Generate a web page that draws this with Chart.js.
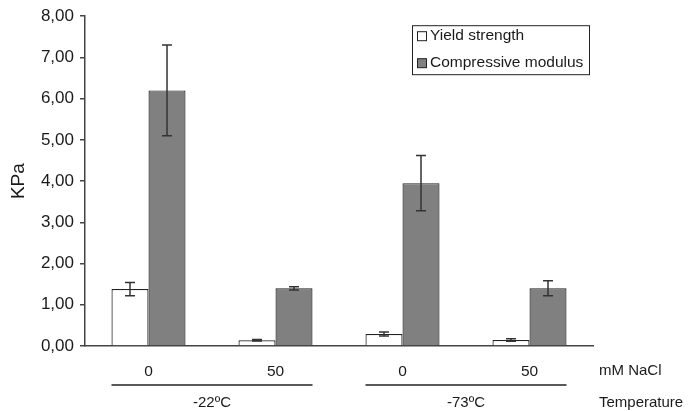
<!DOCTYPE html>
<html><head><meta charset="utf-8">
<script src="https://cdn.jsdelivr.net/npm/chart.js@4/dist/chart.umd.min.js"></script>
<style>html,body{margin:0;padding:0;background:#fff;}#wrap{width:689px;height:411px;}</style>
</head><body><div id="wrap"><canvas id="c" width="689" height="411"></canvas></div>
<script>
const categories = ['0', '50', '0', '50'];
const groups = ['-22ºC', '-73ºC'];
const groupSpan = [[0, 1], [2, 3]];
const yieldStrength = [1.38, 0.14, 0.29, 0.145];
const yieldErr = [0.16, 0.02, 0.05, 0.03];
const compModulus = [6.20, 1.40, 3.95, 1.40];
const compErr = [1.10, 0.04, 0.67, 0.18];
const seriesNames = ['Yield strength', 'Compressive modulus'];
const yTitle = 'KPa';
const xAxisName = 'mM NaCl';
const groupAxisName = 'Temperature';

const FONT = "'Liberation Sans', Arial, sans-serif";
const errors = [yieldErr, compErr];

const errorBars = {
  id: 'errorBars',
  afterDatasetsDraw(chart) {
    const ctx = chart.ctx, ys = chart.scales.y;
    ctx.save();
    ctx.strokeStyle = '#333';
    ctx.lineWidth = 1.5;
    chart.data.datasets.forEach((ds, i) => {
      const meta = chart.getDatasetMeta(i);
      meta.data.forEach((el, j) => {
        const v = ds.data[j], e = errors[i][j];
        const t = ys.getPixelForValue(v + e), b = ys.getPixelForValue(v - e);
        const x = el.x, hw = 5;
        ctx.beginPath();
        ctx.moveTo(x, t); ctx.lineTo(x, b);
        ctx.moveTo(x - hw, t); ctx.lineTo(x + hw, t);
        ctx.moveTo(x - hw, b); ctx.lineTo(x + hw, b);
        ctx.stroke();
      });
    });
    ctx.restore();
  }
};

const extras = {
  id: 'extras',
  afterDraw(chart) {
    const ctx = chart.ctx, ca = chart.chartArea;
    const m0 = chart.getDatasetMeta(0), m1 = chart.getDatasetMeta(1);
    ctx.save();
    ctx.fillStyle = '#1a1a1a';
    ctx.strokeStyle = '#222';
    ctx.lineWidth = 1.5;
    ctx.font = '15px ' + FONT;
    ctx.textBaseline = 'middle';
    groupSpan.forEach((sp, g) => {
      const a = m0.data[sp[0]], b = m1.data[sp[1]];
      const l = a.x - a.width / 2, r = b.x + b.width / 2;
      const ly = ca.bottom + 39;
      ctx.beginPath(); ctx.moveTo(l, ly); ctx.lineTo(r, ly); ctx.stroke();
      ctx.textAlign = 'center';
      ctx.fillText(groups[g], (l + r) / 2, ca.bottom + 57);
    });
    ctx.textAlign = 'left';
    ctx.fillText(xAxisName, 599, ca.bottom + 25);
    ctx.fillText(groupAxisName, 599, ca.bottom + 57);

    // legend
    const bx = ca.right - 181, by = ca.top + 9, bw = 177, bh = 49;
    ctx.lineWidth = 1;
    ctx.strokeStyle = '#222';
    ctx.strokeRect(bx + 0.5, by + 0.5, bw, bh);
    chart.data.datasets.forEach((ds, i) => {
      const cy = by + 11 + i * 27;
      ctx.fillStyle = ds.backgroundColor;
      ctx.fillRect(bx + 5.5, cy - 4.5, 9, 9);
      ctx.strokeStyle = '#222';
      ctx.strokeRect(bx + 5.5, cy - 4.5, 9, 9);
      ctx.fillStyle = '#1a1a1a';
      ctx.font = '15.5px ' + FONT;
      ctx.fillText(ds.label, bx + 18, cy);
    });
    ctx.restore();
  }
};

new Chart(document.getElementById('c'), {
  type: 'bar',
  data: {
    labels: categories,
    datasets: [
      { label: seriesNames[0], data: yieldStrength, backgroundColor: '#ffffff', borderColor: '#222', borderWidth: 1.2,
        categoryPercentage: 0.583, barPercentage: 1.0 },
      { label: seriesNames[1], data: compModulus, backgroundColor: '#808080', borderColor: '#222', borderWidth: 1.2,
        categoryPercentage: 0.583, barPercentage: 1.0 }
    ]
  },
  options: {
    responsive: false,
    devicePixelRatio: 1,
    animation: false,
    layout: { padding: { left: 0, right: 96, top: 15, bottom: 0 } },
    plugins: { legend: { display: false }, tooltip: { enabled: false } },
    scales: {
      x: {
        grid: { display: true, drawOnChartArea: false, drawTicks: false },
        border: { display: true, color: '#444', width: 1.5 },
        ticks: { color: '#1a1a1a', font: { family: FONT, size: 15.5 }, padding: 16 },
        afterFit(s) { s.height = 65; }
      },
      y: {
        min: 0, max: 8,
        grid: { display: true, drawOnChartArea: false, drawTicks: true, tickLength: 5, color: '#444', lineWidth: 1.5 },
        border: { display: true, color: '#444', width: 1.5 },
        ticks: { stepSize: 1, color: '#1a1a1a', font: { family: FONT, size: 17 }, padding: 6,
          callback: v => v.toFixed(2).replace('.', ',') },
        title: { display: true, text: yTitle, color: '#1a1a1a', font: { family: FONT, size: 19 }, padding: { top: 7, bottom: 0 } },
        afterFit(s) { s.width = 85; }
      }
    }
  },
  plugins: [errorBars, extras]
});
</script>
</body></html>
